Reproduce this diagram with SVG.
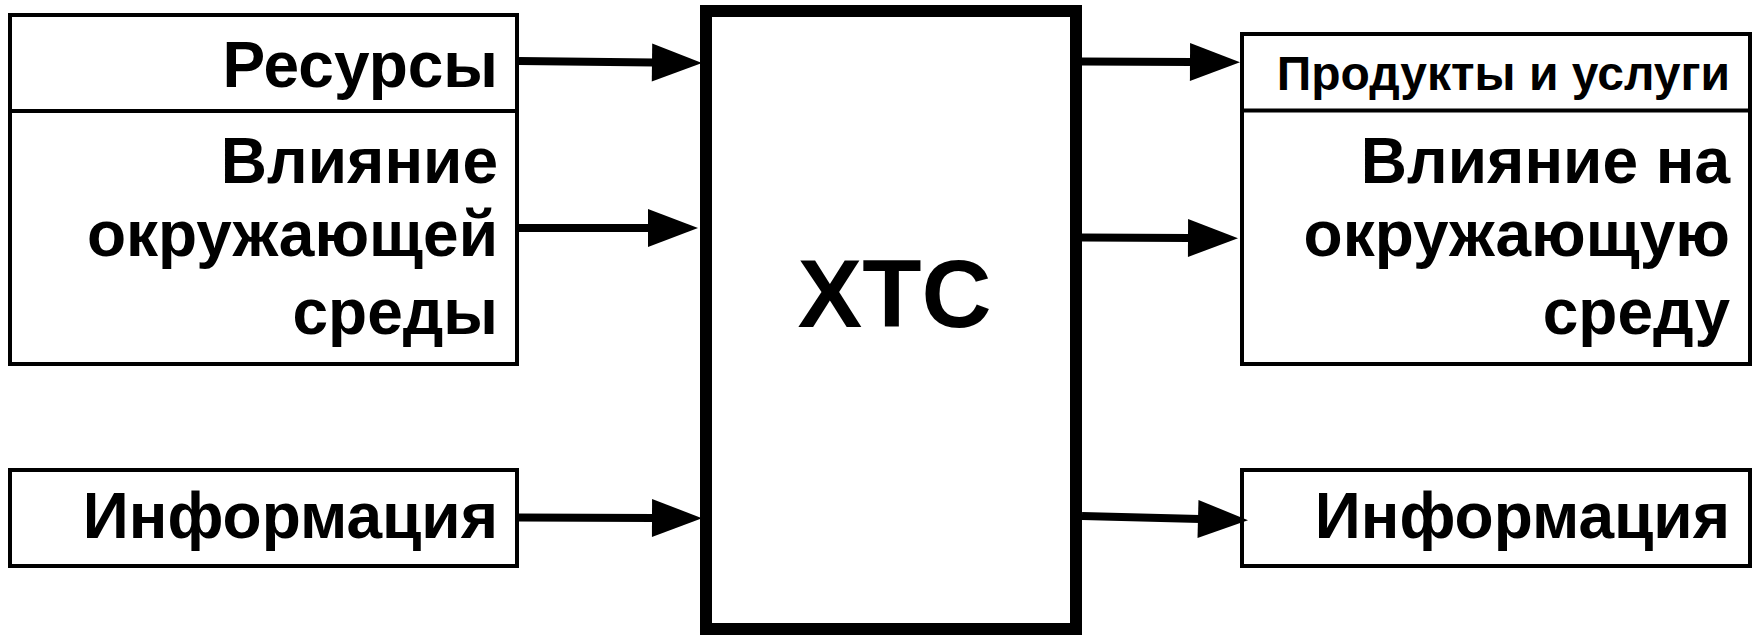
<svg xmlns="http://www.w3.org/2000/svg" width="1758" height="635" viewBox="0 0 1758 635">
<style>
.box{fill:#fff;stroke:#000;stroke-width:4}
.main{fill:#fff;stroke:#000;stroke-width:12}
.div{stroke:#000;stroke-width:4}
.t{font-family:"Liberation Sans",Arial,sans-serif;font-weight:bold;font-size:64px;fill:#000;text-anchor:end}
.ts{font-size:48px}
.big{font-family:"Liberation Sans",Arial,sans-serif;font-weight:bold;font-size:97px;fill:#000;text-anchor:middle}
.c{stroke:#000;stroke-width:8;fill:none;marker-end:url(#ah)}
</style>
<defs>
<marker id="ah" markerUnits="userSpaceOnUse" markerWidth="50" markerHeight="38" refX="2" refY="19" orient="auto" overflow="visible">
<path d="M0,0 L50,19 L0,38 Z" fill="#000"/>
</marker>
</defs>
<rect width="1758" height="635" fill="#fff"/>
<g id="in-resources">
<rect class="box" x="10" y="15" width="507" height="349"/>
<line class="div" x1="10" y1="111" x2="517" y2="111"/>
<text class="t" x="498" y="87">Ресурсы</text>
</g>
<g id="in-environment">
<text class="t" x="498" y="183">Влияние</text>
<text class="t" x="498" y="256">окружающей</text>
<text class="t" x="498" y="334">среды</text>
</g>
<g id="in-info">
<rect class="box" x="10" y="470" width="507" height="96"/>
<text class="t" x="498" y="538">Информация</text>
</g>
<g id="hts">
<rect class="main" x="706" y="11" width="370" height="618"/>
<text class="big" x="894.5" y="327">ХТС</text>
</g>
<g id="out-products">
<rect class="box" x="1242" y="34" width="508" height="330"/>
<line class="div" x1="1242" y1="110.5" x2="1750" y2="110.5"/>
<text class="t ts" x="1730" y="90">Продукты и услуги</text>
</g>
<g id="out-environment">
<text class="t" x="1730" y="183">Влияние на</text>
<text class="t" x="1730" y="256">окружающую</text>
<text class="t" x="1730" y="334">среду</text>
</g>
<g id="out-info">
<rect class="box" x="1242" y="470" width="508" height="96"/>
<text class="t" x="1730" y="538">Информация</text>
</g>
<g id="connectors">
<line class="c" x1="519" y1="61" x2="654" y2="62.5"/>
<line class="c" x1="519" y1="228" x2="650" y2="228"/>
<line class="c" x1="1082" y1="61.5" x2="1192" y2="62"/>
<line class="c" x1="1082" y1="237.5" x2="1190" y2="238"/>
<line class="c" x1="1082" y1="516" x2="1200" y2="519"/>
<line class="c" x1="519" y1="517.5" x2="654" y2="518"/>
</g>
</svg>
